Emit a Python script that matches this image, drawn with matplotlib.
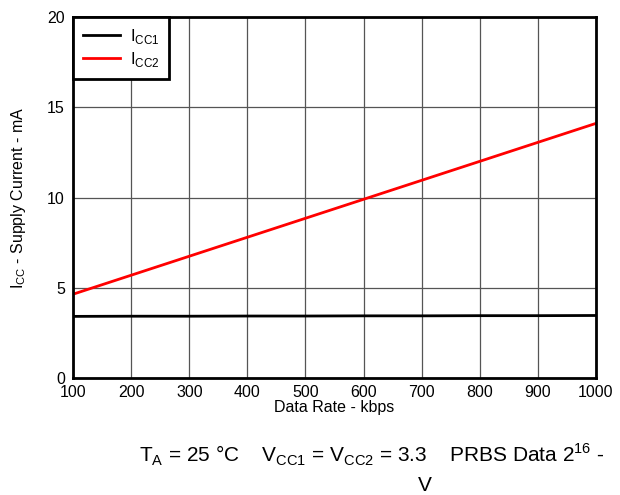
import numpy as np
import matplotlib.pyplot as plt

plt.rcParams['font.family'] = ['Liberation Sans', 'DejaVu Sans']
plt.rcParams['mathtext.fontset'] = 'custom'
plt.rcParams['mathtext.rm'] = 'Liberation Sans'

data_rate = [100, 200, 300, 400, 500, 600, 700, 800, 900, 1000]
icc1 = [3.42, 3.43, 3.43, 3.44, 3.44, 3.45, 3.45, 3.46, 3.46, 3.47]
icc2 = [4.65, 5.7, 6.75, 7.8, 8.85, 9.9, 10.95, 12.0, 13.05, 14.1]

fig = plt.figure(figsize=(6.2, 4.95), dpi=100)
ax = fig.add_axes([0.118, 0.236, 0.843, 0.730])

ax.plot(data_rate, icc1, color="black", lw=2, label=r"I$_{\mathrm{CC1}}$")
ax.plot(data_rate, icc2, color="#ff0000", lw=2, label=r"I$_{\mathrm{CC2}}$")

ax.set_xlim(100, 1000)
ax.set_ylim(0, 20)
ax.set_xticks(range(100, 1001, 100))
ax.set_yticks([0, 5, 10, 15, 20])
ax.grid(True, color="#555555", lw=0.9)
ax.tick_params(length=0, labelsize=11.5)
ax.tick_params(axis="y", pad=6)
ax.tick_params(axis="x", pad=5)
for s in ax.spines.values():
    s.set_linewidth(2)

ax.set_xlabel("Data Rate - kbps", fontsize=11.5, labelpad=0)
ax.set_ylabel(r"I$_{\mathrm{CC}}$ - Supply Current - mA", fontsize=11.5, labelpad=14)

leg = ax.legend(loc="upper left", fontsize=12, frameon=True, fancybox=False,
                borderaxespad=0, handlelength=2.2, borderpad=0.6, labelspacing=0.25,
                handletextpad=0.6)
leg.get_frame().set_edgecolor("black")
leg.get_frame().set_linewidth(2)
leg.get_frame().set_alpha(1)

fig.text(0.60, 0.08, r"T$_{\mathrm{A}}$ = 25 °C    V$_{\mathrm{CC1}}$ = V$_{\mathrm{CC2}}$ = 3.3    PRBS Data 2$^{16}$ -",
         ha="center", va="center", fontsize=15)
fig.text(0.685, 0.02, "V", ha="center", va="center", fontsize=15)

plt.savefig("out.png")
